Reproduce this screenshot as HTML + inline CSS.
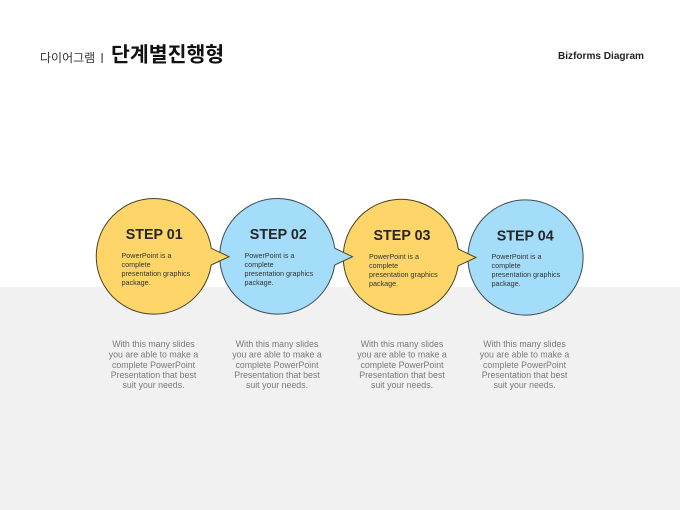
<!DOCTYPE html>
<html lang="ko">
<head>
<meta charset="utf-8">
<title>단계별진행형</title>
<style>
html,body{margin:0;padding:0;background:#fff;}
body{width:680px;height:510px;overflow:hidden;position:relative;}
svg{position:absolute;left:0;top:0;display:block;}
text{font-family:"Liberation Sans","Noto Sans CJK KR",sans-serif;}
</style>
</head>
<body>
<svg width="680" height="510" viewBox="0 0 680 510" xmlns="http://www.w3.org/2000/svg">
<rect x="0" y="287" width="680" height="223" fill="#f1f1f1"/>

<text x="40" y="62" font-size="12" fill="#333">다이어그램</text>
<rect x="101.500" y="53" width="1.200" height="10" fill="#444"/>
<text x="111" y="61.500" font-size="20.500" font-weight="700" fill="#111">단계별진행형</text>
<text x="558" y="59" font-size="10.500" font-weight="700" fill="#222" textLength="86" lengthAdjust="spacingAndGlyphs">Bizforms Diagram</text>

<!-- Step 4 -->
<circle cx="525.500" cy="257.500" r="57.600" fill="#a4ddf9" stroke="#3f4a52" stroke-width="1"/>
<!-- Step 3 -->
<path transform="translate(401 257)" d="M57.300 -7.900 A57.800 57.800 0 1 0 57.200 8.800 L75 0.500 Z" fill="#fdd568" stroke="#4a4228" stroke-width="1"/>
<!-- Step 2 -->
<path transform="translate(277.500 256.200)" d="M57.300 -7.900 A57.800 57.800 0 1 0 57.200 8.800 L75 0.500 Z" fill="#a4ddf9" stroke="#3f4a52" stroke-width="1"/>
<!-- Step 1 -->
<path transform="translate(154 256.200)" d="M57.300 -7.900 A57.800 57.800 0 1 0 57.200 8.800 L75 0.500 Z" fill="#fdd568" stroke="#4a4228" stroke-width="1"/>

<g font-size="15" font-weight="700" fill="#262626">
<text x="125.700" y="239" textLength="57" lengthAdjust="spacingAndGlyphs">STEP 01</text>
<text x="249.800" y="239" textLength="57" lengthAdjust="spacingAndGlyphs">STEP 02</text>
<text x="373.500" y="240" textLength="57" lengthAdjust="spacingAndGlyphs">STEP 03</text>
<text x="496.700" y="240.500" textLength="57" lengthAdjust="spacingAndGlyphs">STEP 04</text>
</g>

<g font-size="7.200" fill="#333">
<text x="121.500" y="258">PowerPoint is a</text>
<text x="121.500" y="267">complete</text>
<text x="121.500" y="276">presentation graphics</text>
<text x="121.500" y="285">package.</text>

<text x="244.500" y="258">PowerPoint is a</text>
<text x="244.500" y="267">complete</text>
<text x="244.500" y="276">presentation graphics</text>
<text x="244.500" y="285">package.</text>

<text x="369" y="259">PowerPoint is a</text>
<text x="369" y="268">complete</text>
<text x="369" y="277">presentation graphics</text>
<text x="369" y="286">package.</text>

<text x="491.500" y="259">PowerPoint is a</text>
<text x="491.500" y="268">complete</text>
<text x="491.500" y="277">presentation graphics</text>
<text x="491.500" y="286">package.</text>
</g>

<g font-size="8.800" fill="#7a7a7a" text-anchor="middle">
<text x="153.500" y="347">With this many slides</text>
<text x="153.500" y="357.500">you are able to make a</text>
<text x="153.500" y="368">complete PowerPoint</text>
<text x="153.500" y="378">Presentation that best</text>
<text x="153.500" y="388">suit your needs.</text>

<text x="277" y="347">With this many slides</text>
<text x="277" y="357.500">you are able to make a</text>
<text x="277" y="368">complete PowerPoint</text>
<text x="277" y="378">Presentation that best</text>
<text x="277" y="388">suit your needs.</text>

<text x="402" y="347">With this many slides</text>
<text x="402" y="357.500">you are able to make a</text>
<text x="402" y="368">complete PowerPoint</text>
<text x="402" y="378">Presentation that best</text>
<text x="402" y="388">suit your needs.</text>

<text x="524.500" y="347">With this many slides</text>
<text x="524.500" y="357.500">you are able to make a</text>
<text x="524.500" y="368">complete PowerPoint</text>
<text x="524.500" y="378">Presentation that best</text>
<text x="524.500" y="388">suit your needs.</text>
</g>
</svg>
</body>
</html>
